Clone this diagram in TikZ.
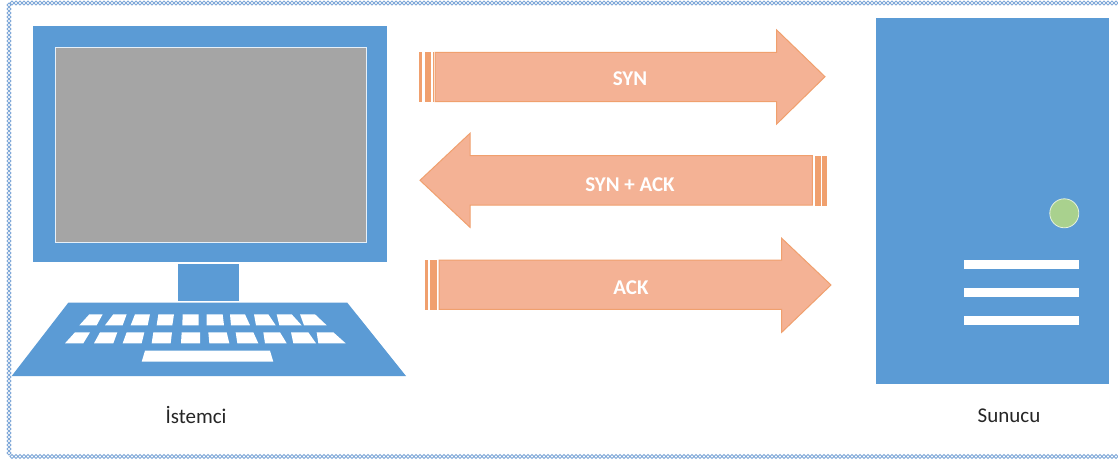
\documentclass[tikz,border=0pt]{standalone}
\usepackage{fontspec}
\setmainfont{Carlito}
\definecolor{pcblue}{HTML}{5B9BD5}
\definecolor{arrowfill}{HTML}{F4B295}
\definecolor{arrowedge}{HTML}{F0A06E}
\definecolor{screengray}{HTML}{A5A5A5}
\definecolor{ledgreen}{HTML}{A9D18E}
\definecolor{chain}{HTML}{7FA8D8}
\tikzset{
  blueshape/.style={fill=pcblue,draw=none},
  whitekey/.style={fill=white,draw=none},
  arrowbody/.style={fill=arrowfill,draw=arrowedge,line width=1pt,line join=miter},
  stripe/.style={fill=arrowedge,draw=none},
  arrowtext/.style={text=white,font=\fontsize{21}{23}\selectfont\bfseries,inner sep=0pt},
  caption/.style={text=black!85,font=\fontsize{21}{23}\selectfont,inner sep=0pt},
  link/.style={draw=chain,line width=0.9pt,fill=white}
}
\begin{document}
\begin{tikzpicture}[x=1pt,y=-1pt]
\useasboundingbox (0,0) rectangle (1118,461);
\fill[white] (0,0) rectangle (1118,461);
% border chain
\foreach \x in {12,16,...,1118} {
  \draw[link] (\x-2,3) -- (\x,1) -- (\x+2,3) -- (\x,5) -- cycle;
  \draw[link] (\x-2,456.5) -- (\x,454.5) -- (\x+2,456.5) -- (\x,458.5) -- cycle;
}
\foreach \y in {5,9,...,453} {
  \draw[link] (9,\y-2) -- (11,\y) -- (9,\y+2) -- (7,\y) -- cycle;
}
% monitor
\fill[blueshape] (33,26) rectangle (387,262);
\draw[fill=screengray,draw=white!85!pcblue,line width=1pt] (55.5,47.5) rectangle (366,242);
\fill[blueshape] (177.7,263.5) rectangle (239.3,301);
% keyboard
\fill[blueshape] (68.3,302.7) -- (347.3,302.7) -- (406,376) -- (11.7,376) -- cycle;
\foreach \ta/\tb/\ba/\bb in {268/308/238/290,340/380/315/368,405/450/392/443,475/522/470/517,548/596/547/596,620/668/620/672,690/735/693/750,762/805/768/827,830/875/838/905,900/945/912/980} {
  \fill[whitekey] (\ta/3,314.3) -- (\tb/3,314.3) -- (\bb/3,325.3) -- (\ba/3,325.3) -- cycle;
}
\foreach \ta/\tb/\ba/\bb in {225/270/195/250,300/352/282/340,380/433/368/425,460/516/455/512,545/600/543/600,625/680/628/688,707/760/712/775,790/840/795/860,873/925/880/948,950/1000/955/1037} {
  \fill[whitekey] (\ta/3,332.3) -- (\tb/3,332.3) -- (\bb/3,343.3) -- (\ba/3,343.3) -- cycle;
}
\fill[whitekey] (145,350.7) -- (270,350.7) -- (273.3,361.7) -- (141.7,361.7) -- cycle;
% server
\fill[blueshape] (875.7,18) rectangle (1109,384.3);
\draw[fill=ledgreen,draw=white!70!ledgreen,line width=0.8pt] (1064.3,213.3) circle (14.5);
\fill[whitekey] (964,260) rectangle (1079,269.3);
\fill[whitekey] (964,287.7) rectangle (1079,297);
\fill[whitekey] (964,315.7) rectangle (1079,325);
% arrows
\draw[arrowbody] (435,52.3) -- (776.7,52.3) -- (776.7,30) -- (825,76.7) -- (776.7,124) -- (776.7,101.7) -- (435,101.7) -- cycle;
\fill[stripe] (419,52) rectangle (422.3,102);
\fill[stripe] (425,52) rectangle (431,102);
\fill[stripe] (432.5,52) rectangle (434,102);
\draw[arrowbody] (812.3,155.7) -- (470,155.7) -- (470,133.3) -- (420,180.3) -- (470,227.3) -- (470,205) -- (812.3,205) -- cycle;
\fill[stripe] (814.7,155.5) rectangle (820.7,205.5);
\fill[stripe] (822.3,155.5) rectangle (826.7,205.5);
\draw[arrowbody] (439,260) -- (781.7,260) -- (781.7,238.3) -- (831,285) -- (781.7,332.3) -- (781.7,309.3) -- (439,309.3) -- cycle;
\fill[stripe] (424.7,260) rectangle (428.3,309.5);
\fill[stripe] (430,260) rectangle (437.3,309.5);
% labels
\node[arrowtext] (syn) at (630,78.5) {SYN};
\node[arrowtext] (synack) at (630,184.5) {SYN + ACK};
\node[arrowtext] (ack) at (631,287.5) {ACK};
\node[caption] (client) at (196,415.5) {İstemci};
\node[caption] (server) at (1009,415.5) {Sunucu};
\end{tikzpicture}
\end{document}
